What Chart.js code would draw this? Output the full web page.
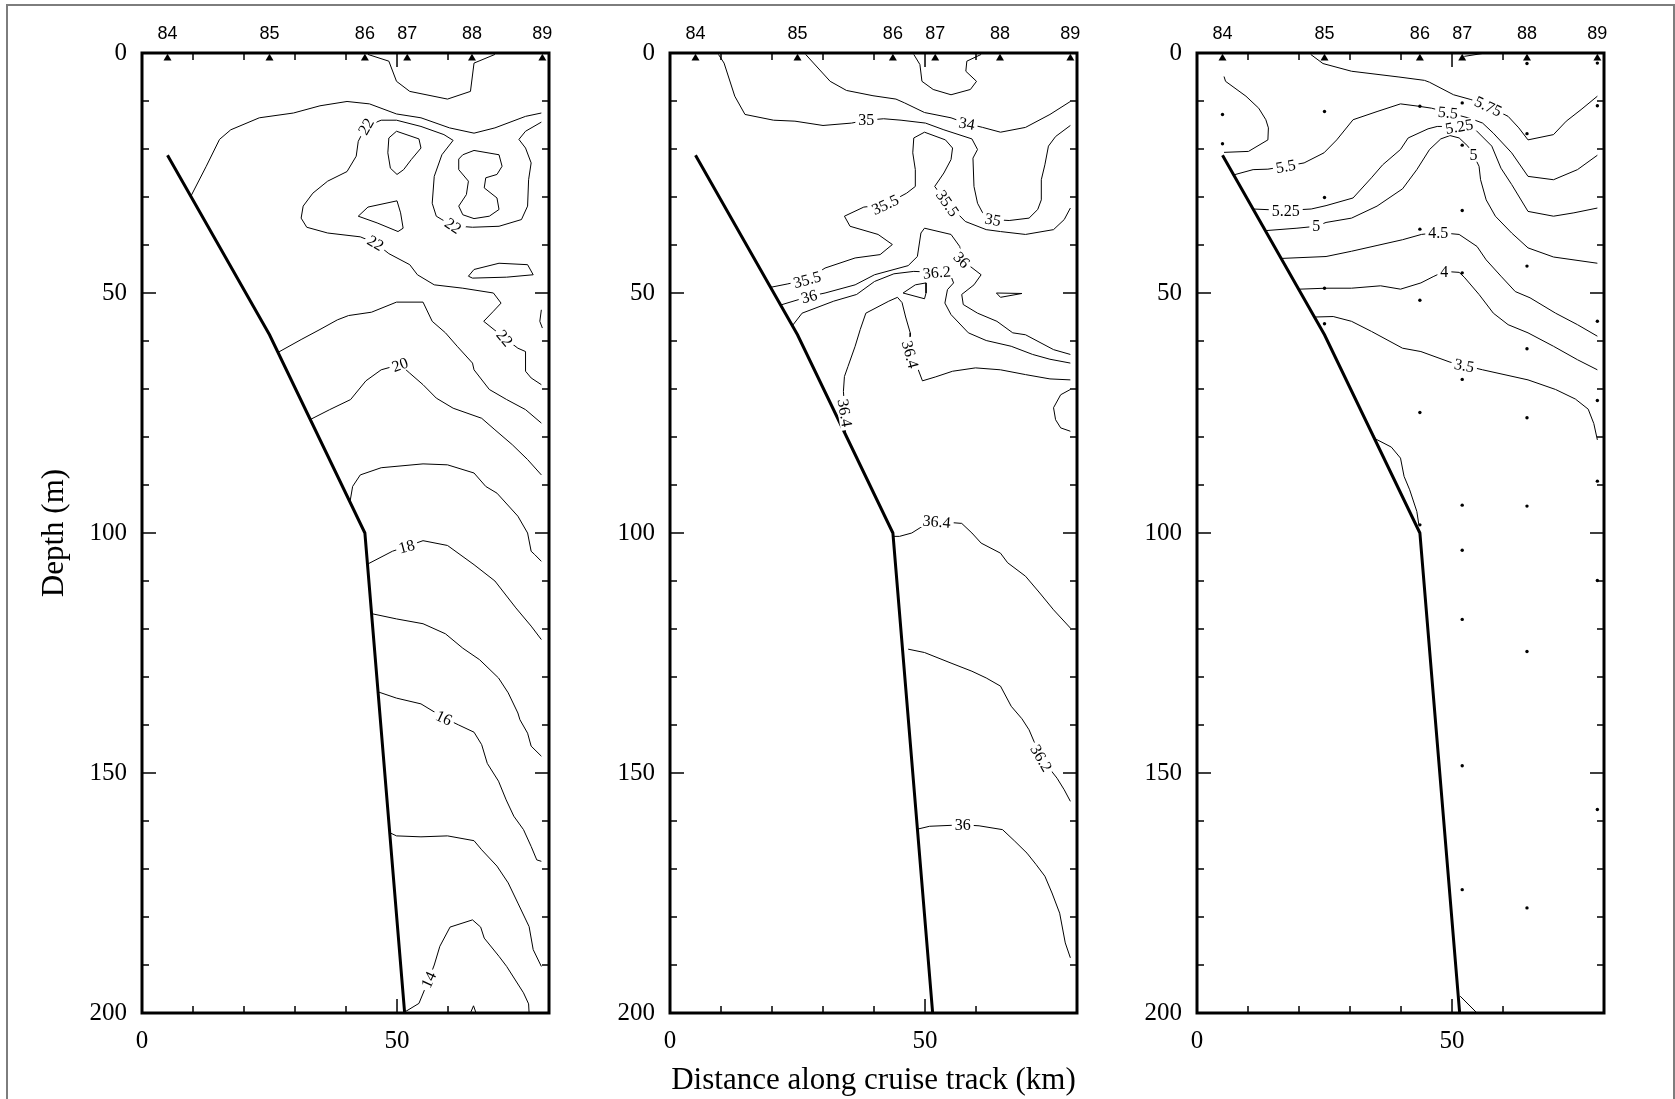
<!DOCTYPE html>
<html>
<head>
<meta charset="utf-8">
<script src="https://cdn.jsdelivr.net/npm/chart.js@4.4.1/dist/chart.umd.min.js"></script>
<style>
  html, body { margin: 0; padding: 0; background: #fff; }
  body { width: 1675px; height: 1099px; position: relative; overflow: hidden; }
  .frame { position: absolute; left: 6px; top: 4px; width: 1665px; height: 1200px; border: 2px solid #7d7d7d; }
  canvas { position: absolute; top: 0; }
</style>
</head>
<body>
<div class="frame"></div>
<canvas id="p1" width="562" height="1099" style="left:0px"></canvas>
<canvas id="p2" width="562" height="1099" style="left:528px"></canvas>
<canvas id="p3" width="562" height="1099" style="left:1055px"></canvas>
<script>
// Stations along the section (km) and their numbers, shown on the top axis
const stationKm = [5, 25, 43.7, 52, 64.7, 78.5];
const stationNames = ['84', '85', '86', '87', '88', '89'];

// Bottom profile (km, depth m)
const bottomKm = [5, 25, 43.7, 51.5];
const bottomDepth = [21.3, 58.7, 100, 200];

// ---- Panel 1: temperature contours, [km, depth] ----
const t1Top = [[44.3,0.3],[48.4,1.7],[49.9,5.9],[52.5,8],[59.9,9.6],[64.4,8],[65.1,2.1],[69.2,0.3]];
const t1Outer = [[9.6,29.8],[12.6,23.6],[15.2,18],[17.4,16],[23,13.5],[29.7,12.5],[34.9,11],[40.2,10.1],[44.6,10.6],[49.9,12.7],[54.7,13.5],[60.3,15.6],[65.1,16.7],[69.2,15.6],[75.2,13.2],[78.3,12.5]];
const t1c22 = [[78.3,69.1],[76.3,67.7],[75.2,66.3],[75.2,62.2],[73.7,61.5],[71.1,59.4],[67,55.9],[68.9,53.8],[70.4,52.1],[68.9,50],[62.9,49],[57.3,48.3],[54,46.2],[52.5,44.1],[48.4,41.8],[45.8,39.6],[42.8,38.3],[36.4,37.5],[32.3,36.3],[31.2,34.4],[31.6,31.9],[33.5,29.2],[36.4,26.7],[40.2,24.7],[42,21.5],[42.4,18.4],[43.9,15.3],[46.9,14],[49.9,14],[54.7,15.3],[59.2,17],[61,18.2],[58.8,21.2],[57.3,25.7],[56.9,31.3],[57.7,34],[58.8,34.7],[61,36],[64.8,36.3],[70,36.1],[74.4,34.7],[75.6,31.9],[75.8,26.4],[76.3,22.9],[75.2,19.8],[73.9,18],[75.2,16.3],[78.3,14.4]];
const t1LoopA = [[49.9,16.3],[54.3,17.9],[54.7,19.8],[52.8,22.2],[51.3,24.3],[50,25.3],[48.7,24],[48.2,20.8],[48.4,17.7],[49.9,16.3]];
const t1LoopB = [[62.9,21.2],[65.1,20.3],[70,21.2],[70.6,23.6],[69.6,25.3],[67.4,26],[67.1,28.1],[69.6,30.2],[70,32.6],[68.1,34],[65.1,34.5],[62.9,33.7],[62.1,31.9],[63.6,29.5],[64,26.7],[62.1,24.3],[62.1,22.1],[62.9,21.2]];
const t1LoopC = [[42.4,34],[44.3,32.1],[50,30.8],[50.7,33.3],[51.2,36.5],[50.2,37.2],[46.1,35.4],[42.4,34]];
const t1LoopD = [[64,46.5],[65.1,45.1],[70,43.8],[75.6,44.1],[76.7,46.2],[71.5,46.7],[64.8,46.9],[64,46.5]];
const t1Edge = [[78.3,53.5],[78,55.9],[78.5,57.3]];
const t1c21 = [[26.8,62.3],[31.2,59.7],[34.9,57.6],[38.3,55.6],[40.5,54.7],[45,54],[49.9,51.9],[55.1,51.9],[56.9,55.9],[59.5,58.3],[61.8,61.1],[64.8,64.6],[65.1,66],[68.1,70.1],[71.5,72.2],[75.2,74.3],[78.3,77.1]];
const t1c20 = [[33.1,76.3],[36.8,74.3],[40.9,72.2],[43.9,68.3],[46.9,66],[50.6,64.9],[52.5,66.7],[55.1,69.1],[57.7,71.9],[61,74],[66.6,76.1],[69.2,78.5],[72.6,81.6],[75.6,84.7],[78.3,87.9]];
const t1c19 = [[40.8,93.4],[41.3,90.3],[42.8,87.9],[46.9,86.4],[55.1,85.6],[59.9,85.8],[65.1,87.5],[67.4,90.3],[69.6,91.7],[73.7,96.5],[75.6,100],[76.3,103.8],[77,104.5],[78.3,105.9]];
const t1c18 = [[44.2,106.5],[49.1,103.8],[51.9,102.8],[55.1,101.6],[59.9,102.6],[65.1,106.6],[69.2,110],[73.3,115.6],[76.3,119.4],[78.3,122.2]];
const t1c17 = [[45,116.8],[49.9,117.9],[55.1,118.9],[59.5,121],[62.9,124],[66.2,126.4],[69.9,130.2],[71.8,133.3],[73.7,137.5],[74.1,138.9],[75.6,141.7],[76.3,144.4],[78.3,146.5]];
const t1c16 = [[46.3,133.1],[49.9,134.4],[54.7,135.6],[59.2,138.5],[62.1,140],[65.1,141.5],[66.6,144.1],[67.7,148],[69.9,151.7],[71.4,155.6],[72.9,159],[74.8,161.8],[76.3,165.3],[77.4,168.1],[78.3,168.4]];
const t1c15 = [[48.7,162.5],[49.9,163.1],[54.7,163.3],[59.9,163.1],[65.1,164.1],[66.6,166],[69.6,169.4],[71.8,172.9],[73.7,177.1],[75.9,182],[76.7,186.8],[78.3,190.3]];
const t1c14 = [[51.5,199.8],[54.3,198],[56.2,193.1],[57.3,190],[58.4,186.1],[60.4,182.1],[64.8,180.6],[66.4,182.1],[67.1,184.4],[70,188.2],[71.5,190.3],[74.8,195.8],[75.8,198.1],[75.9,200]];
const t1Bump = [[64.4,200],[65,198.5],[65.5,200]];
const t1Labels = [['22',43.9,15.3,-60],['22',61,36,35],['22',45.8,39.6,30],['22',71.1,59.4,50],['20',50.6,64.9,-20],['18',51.9,102.8,-15],['16',59.2,138.5,25],['14',56.2,193.1,-65]];

// ---- Panel 2: salinity contours ----
const s35a = [[9.5,0.3],[10.6,2.1],[12.7,9],[14.7,12.8],[20.3,14],[24.5,14.2],[30,15.1],[35.6,14.6],[38.5,14],[41.9,13.7],[45.3,14],[50.1,14.6],[53.7,16],[59.2,17.9],[60.3,20.1],[59.4,21.9],[59.6,27.8],[60.3,31.3],[61.3,33.3],[63.3,34.7],[66.5,34.9],[70.4,34.4],[72.1,32.6],[72.8,30.6],[72.8,26.4],[73.5,23.3],[74.2,19.4],[75.6,17.4],[78.5,15.1]];
const s34 = [[26.6,0.3],[31.4,5.9],[34.6,7.8],[39.8,8.9],[44.3,9.6],[46,10.4],[49.9,12.4],[55.1,13.5],[58.2,14.7],[61.3,15.5],[64.8,16.5],[69.7,15.5],[74.5,12.8],[78.5,10.1]];
const sTop = [[47.8,0.3],[49,2.4],[49.4,5.9],[51.6,7.6],[55.1,8.7],[58.9,7.6],[60.1,5.9],[58,3.8],[58.2,1.7],[61,0.3]];
const s355 = [[19.8,48.8],[23.1,48.1],[26.9,47.2],[30.4,44.8],[36.3,42.7],[41.2,42],[43.6,39.9],[40.8,37.8],[35.3,36.1],[34.2,34],[38,32.1],[42.2,31.6],[46.4,29.2],[48.1,27.8],[48.1,24.3],[47.6,20.8],[47.8,17.7],[49.9,16.5],[54,18.1],[55.4,19.8],[55.1,22.2],[53.7,25],[51.9,27.8],[54.4,31.3],[57.9,35.1],[62,36.8],[64.8,37.2],[69.7,37.8],[75.2,36.8],[77.3,34.7],[78.5,32.3]];
const s36a = [[21.7,52.5],[27.3,50.7],[30.4,50],[36.3,48.3],[40.1,46.2],[46.7,44.3],[48.5,42.4],[49.2,37.5],[49.9,36.5],[55.1,37.8],[56.8,40.3],[57.2,43.1],[61,46.2],[59.6,48.3],[57.2,50.3],[57.5,52.4],[60.3,54.2],[64.1,55.9],[67.2,58.3],[69.7,58.7],[75.2,61.8],[78.5,62.8]];
const s362a = [[24,56.8],[25.9,54.2],[32.1,51.7],[36.6,50.3],[40.1,47.6],[43.9,46],[47.8,45.5],[52.3,45.7],[55.1,46.5],[55.6,47.9],[54.4,49.3],[53.9,52.1],[55.1,54.5],[58.5,58.3],[62,59.9],[66.9,61.1],[71.1,62.8],[74.5,63.8],[78.5,64.6]];
const sLoop86 = [[45.7,50],[48.1,48.3],[50.2,47.9],[50.2,50],[49.9,51.2],[45.7,50]];
const sLoop88 = [[64,50],[69,50.1],[64.8,50.9],[64,50]];
const s364a = [[34.4,79.6],[34.3,75],[34,70.5],[34.2,67.4],[34.9,65.3],[36.3,61.1],[37.3,57.6],[38.4,54.2],[42.9,51.7],[44.6,50.9],[45.5,52],[46.2,55],[47.1,58.3],[47.1,62.8],[48.5,65.5],[49.5,68.3],[52,67.5],[55.4,66.3],[59.9,65.6],[64.8,66],[69.7,67],[74.5,67.9],[78.5,68.1]];
const sEdge = [[78.5,70.1],[76.6,71.2],[75.2,73.9],[75.6,76.4],[76.6,78.1],[78.5,78.8]];
const s364b = [[43.75,100.7],[45,100.7],[47.4,100],[49.5,98.6],[52.3,97.6],[57.2,98],[59.2,100],[61,102.1],[64.8,104.2],[66.2,106.2],[69.7,109],[72.5,112.5],[75.2,116],[78.5,119.8]];
const s362b = [[46.7,124.2],[49.9,124.9],[55.1,127.1],[59.2,128.8],[62,130.2],[64.8,131.9],[66.9,136.1],[69,138.7],[70.4,141],[71.4,143.5],[72.8,146.9],[75.9,151.1],[77.3,153.5],[78.5,155.9]];
const s36b = [[48.5,161.7],[50.9,161.1],[57.4,160.8],[60.6,161],[65.2,161.8],[67.6,164.2],[70,166.7],[71.8,169.1],[73.5,171.5],[74.9,175],[76.4,179.2],[77.5,185.4],[78.5,188.5]];
const s2Labels = [['35',38.5,14,0],['34',58.2,14.7,10],['35.5',42.2,31.6,-25],['35.5',54.4,31.3,55],['35',63.3,34.7,10],['35.5',26.9,47.2,-15],['36',27.3,50.7,-15],['36.2',52.3,45.7,-5],['36',57.2,43.1,45],['36.4',47.1,62.8,75],['36.4',34.3,75,80],['36.4',52.3,97.6,5],['36.2',72.8,146.9,60],['36',57.4,160.8,0]];

// ---- Panel 3: oxygen contours ----
const o575 = [[22.3,0.3],[24.7,2.2],[30.3,3.8],[39.6,5],[44.6,5.7],[45.6,6.1],[50.3,8.7],[53.7,9.7],[57.1,11.1],[61,13.2],[63.1,15.6],[64.9,18.1],[69.9,17],[72.4,14.2],[75.3,11.8],[78.5,9]];
const oTopBit = [[52.4,0.7],[56,0.1]];
const oLoop84 = [[5.3,4.9],[5.6,5.9],[9.6,9],[12.1,11.5],[13.5,13.9],[14,15.6],[13.9,18.1],[10.1,20.5],[5.3,20.7]];
const o55 = [[7.2,25.4],[11,24.3],[13.9,24.2],[17.4,23.6],[21,22.9],[24.9,20.8],[27.4,18.1],[30.6,13.9],[35.3,12.2],[39.9,10.6],[43.5,11.1],[46,11.5],[49.2,12.4],[53.5,13.6],[56,14.6],[58.1,16.7],[61.7,20.8],[64.9,25.7],[69.9,26.4],[74.6,24.3],[78.5,21.3]];
const o525 = [[11,32.5],[17.4,32.8],[22.4,32.5],[25.3,31.8],[30.6,30.2],[34.2,26],[36.4,23.3],[39.9,20.1],[41.4,17.7],[45.3,15.8],[47.1,15.3],[51.4,15.3],[54.6,16],[57.8,19.4],[59.6,24],[61.7,27.4],[64.9,33],[69.9,34],[73.9,33.3],[78.5,32.3]];
const o50 = [[13.5,37],[19.6,36.5],[23.4,36.1],[25.3,35.3],[30.3,34.4],[35.3,31.9],[40.3,28.3],[43.1,24.3],[45.6,20.1],[47.8,17.9],[49.6,17.2],[51.4,17.7],[53.1,19.4],[54.2,21.2],[55.3,23.6],[55.6,26.4],[56.7,30.6],[58.5,34],[61.7,37.5],[64.9,40.6],[69.9,42.5],[78.5,43.8]];
const o45 = [[16.5,42.8],[25.3,42.4],[30.3,41.3],[35.3,40.1],[40.3,38.9],[44,37.8],[47.3,37.4],[51.4,37.8],[54.9,40.3],[56.7,43.1],[59.6,46.5],[62.4,49.7],[65.3,51],[70.3,54.2],[74.6,56.6],[78.5,59]];
const o40 = [[20.1,49.2],[25.3,49],[30.3,49],[36,48.5],[39.9,49.2],[43.9,47.9],[46.3,46.6],[48.5,45.5],[51.4,45.7],[52.4,46.7],[55.3,50.3],[58.1,54.2],[61,56.6],[64.9,58.3],[69.9,61.1],[74.6,63.9],[78.5,66]];
const o35 = [[23.2,55],[26.7,54.9],[30.3,55.9],[34.2,58],[40.3,61.5],[43.9,62.2],[49.6,64.4],[52.4,65.1],[56,66],[64.9,68.1],[70.3,70.1],[74.2,72.1],[76.7,74.2],[77.8,77.2],[78.5,80.6]];
const oSlope = [[32.4,75.2],[35,80.4],[38.1,82.1],[39.9,84.4],[40.6,88.2],[41.7,91],[43.1,95.5],[43.5,98.3]];
const oBottom = [[51.6,196.5],[54.9,200]];
const oDots = [[5,12.8],[5,18.9],[25,12.2],[25,30.1],[25,49],[25,56.4],[43.7,11.1],[43.7,36.7],[43.7,51.5],[43.7,74.9],[43.7,98.3],[52,10.4],[52,19.2],[52,32.8],[52,45.8],[52,68],[52,94.2],[52,103.6],[52,118],[52,148.5],[52,174.3],[64.7,2.2],[64.7,16.8],[64.7,44.4],[64.7,61.6],[64.7,76],[64.7,94.4],[64.7,124.7],[64.7,178.1],[78.5,2.1],[78.5,11],[78.5,55.9],[78.5,72.4],[78.5,89.2],[78.5,109.9],[78.5,157.6]];
const o3Labels = [['5.75',57.1,11.1,25],['5.5',49.2,12.4,5],['5.25',51.4,15.3,-10],['5',54.2,21.2,0],['5.5',17.4,23.6,-10],['5.25',17.4,32.8,0],['5',23.4,36.1,0],['4.5',47.3,37.4,0],['4',48.5,45.5,0],['3.5',52.4,65.1,10]];

const SERIF = '"Liberation Serif", "Times New Roman", serif';
const SANS = '"Liberation Sans", Arial, sans-serif';

function toXY(pts) {
    return pts.map(p => ({ x: p[0], y: p[1] }));
}

function contour(pts) {
    return {
        data: toXY(pts), showLine: true, borderColor: '#000', borderWidth: 1,
        pointRadius: 0, fill: false, tension: 0
    };
}

function baseDatasets() {
    return [
        {
            data: bottomKm.map((x, i) => ({ x, y: bottomDepth[i] })), showLine: true,
            borderColor: '#000', borderWidth: 3, pointRadius: 0, tension: 0
        },
        {
            data: stationKm.map(x => ({ x, y: 1.1 })), showLine: false,
            pointStyle: 'triangle', pointRadius: 4.6, backgroundColor: '#000',
            borderColor: '#000', borderWidth: 0
        }
    ];
}

// Frame, inward tick marks, station numbers, contour labels and axis titles
const decorPlugin = {
    id: 'panelDecor',
    afterDatasetsDraw(chart, args, opts) {
        const ctx = chart.ctx;
        const { left, right, top, bottom } = chart.chartArea;
        const xs = chart.scales.x, ys = chart.scales.y;
        ctx.save();

        // contour labels on white boxes
        ctx.font = '16px ' + SERIF;
        ctx.textAlign = 'center';
        ctx.textBaseline = 'middle';
        (opts.labels || []).forEach(([txt, kx, dy, rot]) => {
            const px = xs.getPixelForValue(kx), py = ys.getPixelForValue(dy);
            const w = ctx.measureText(txt).width + 6;
            ctx.save();
            ctx.translate(px, py);
            ctx.rotate(rot * Math.PI / 180);
            ctx.fillStyle = '#fff';
            ctx.fillRect(-w / 2, -7, w, 14);
            ctx.fillStyle = '#000';
            ctx.fillText(txt, 0, 1);
            ctx.restore();
        });

        // frame
        ctx.strokeStyle = '#000';
        ctx.lineWidth = 3;
        ctx.strokeRect(left, top, right - left, bottom - top);

        // ticks
        ctx.lineWidth = 1.5;
        ctx.beginPath();
        xs.ticks.forEach(t => {
            if (t.value % 10 !== 0 || t.value === 0) return;
            const px = xs.getPixelForValue(t.value);
            const len = t.value % 50 === 0 ? 14 : 7;
            ctx.moveTo(px, top); ctx.lineTo(px, top + len);
            ctx.moveTo(px, bottom); ctx.lineTo(px, bottom - len);
        });
        ys.ticks.forEach(t => {
            if (t.value % 10 !== 0) return;
            const py = ys.getPixelForValue(t.value);
            const len = t.value % 50 === 0 ? 14 : 7;
            ctx.moveTo(left, py); ctx.lineTo(left + len, py);
            ctx.moveTo(right, py); ctx.lineTo(right - len, py);
        });
        ctx.stroke();

        // station numbers above the top axis
        ctx.fillStyle = '#000';
        ctx.font = '18px ' + SANS;
        ctx.textAlign = 'center';
        ctx.textBaseline = 'alphabetic';
        stationKm.forEach((k, i) => {
            ctx.fillText(stationNames[i], xs.getPixelForValue(k), 39);
        });

        ctx.font = '31px ' + SERIF;
        if (opts.yTitle) {
            ctx.save();
            ctx.translate(55, (top + bottom) / 2);
            ctx.rotate(-Math.PI / 2);
            ctx.textBaseline = 'middle';
            ctx.fillText(opts.yTitle, 0, 0);
            ctx.restore();
        }
        if (opts.xTitle) {
            ctx.fillText(opts.xTitle, (left + right) / 2, 1089);
        }
        ctx.restore();
    }
};

function makePanel(id, lines, extra, decor) {
    const datasets = baseDatasets().concat(lines.map(contour), extra);
    const tickFont = { family: SERIF, size: 25 };
    return new Chart(document.getElementById(id).getContext('2d'), {
        type: 'scatter',
        data: { datasets },
        plugins: [decorPlugin],
        options: {
            responsive: false, animation: false, events: [],
            layout: { padding: { top: 53, right: 10, left: 0, bottom: 0 } },
            plugins: { legend: { display: false }, tooltip: { enabled: false }, panelDecor: decor },
            scales: {
                x: {
                    type: 'linear', min: 0, max: 79.8, position: 'bottom',
                    afterFit: s => { s.height = 86; },
                    grid: { display: false, drawTicks: false }, border: { display: false },
                    ticks: {
                        stepSize: 10, autoSkip: false, maxRotation: 0, padding: 13,
                        color: '#000', font: tickFont,
                        callback: v => (v % 50 === 0 ? String(v) : '')
                    }
                },
                y: {
                    type: 'linear', min: 0, max: 200, reverse: true,
                    afterFit: s => { s.width = 142; },
                    grid: { display: false, drawTicks: false }, border: { display: false },
                    ticks: {
                        stepSize: 10, autoSkip: false, padding: 15,
                        color: '#000', font: tickFont,
                        callback: v => (v % 50 === 0 ? String(v) : '')
                    }
                }
            }
        }
    });
}

makePanel('p1',
    [t1Top, t1Outer, t1c22, t1LoopA, t1LoopB, t1LoopC, t1LoopD, t1Edge, t1c21, t1c20, t1c19, t1c18, t1c17, t1c16, t1c15, t1c14, t1Bump],
    [],
    { labels: t1Labels, yTitle: 'Depth (m)' });

makePanel('p2',
    [s35a, s34, sTop, s355, s36a, s362a, sLoop86, sLoop88, s364a, sEdge, s364b, s362b, s36b],
    [],
    { labels: s2Labels, xTitle: 'Distance along cruise track (km)' });

makePanel('p3',
    [o575, oTopBit, oLoop84, o55, o525, o50, o45, o40, o35, oSlope, oBottom],
    [{ data: toXY(oDots), showLine: false, pointRadius: 1.7, backgroundColor: '#000', borderWidth: 0 }],
    { labels: o3Labels });
</script>
</body>
</html>
